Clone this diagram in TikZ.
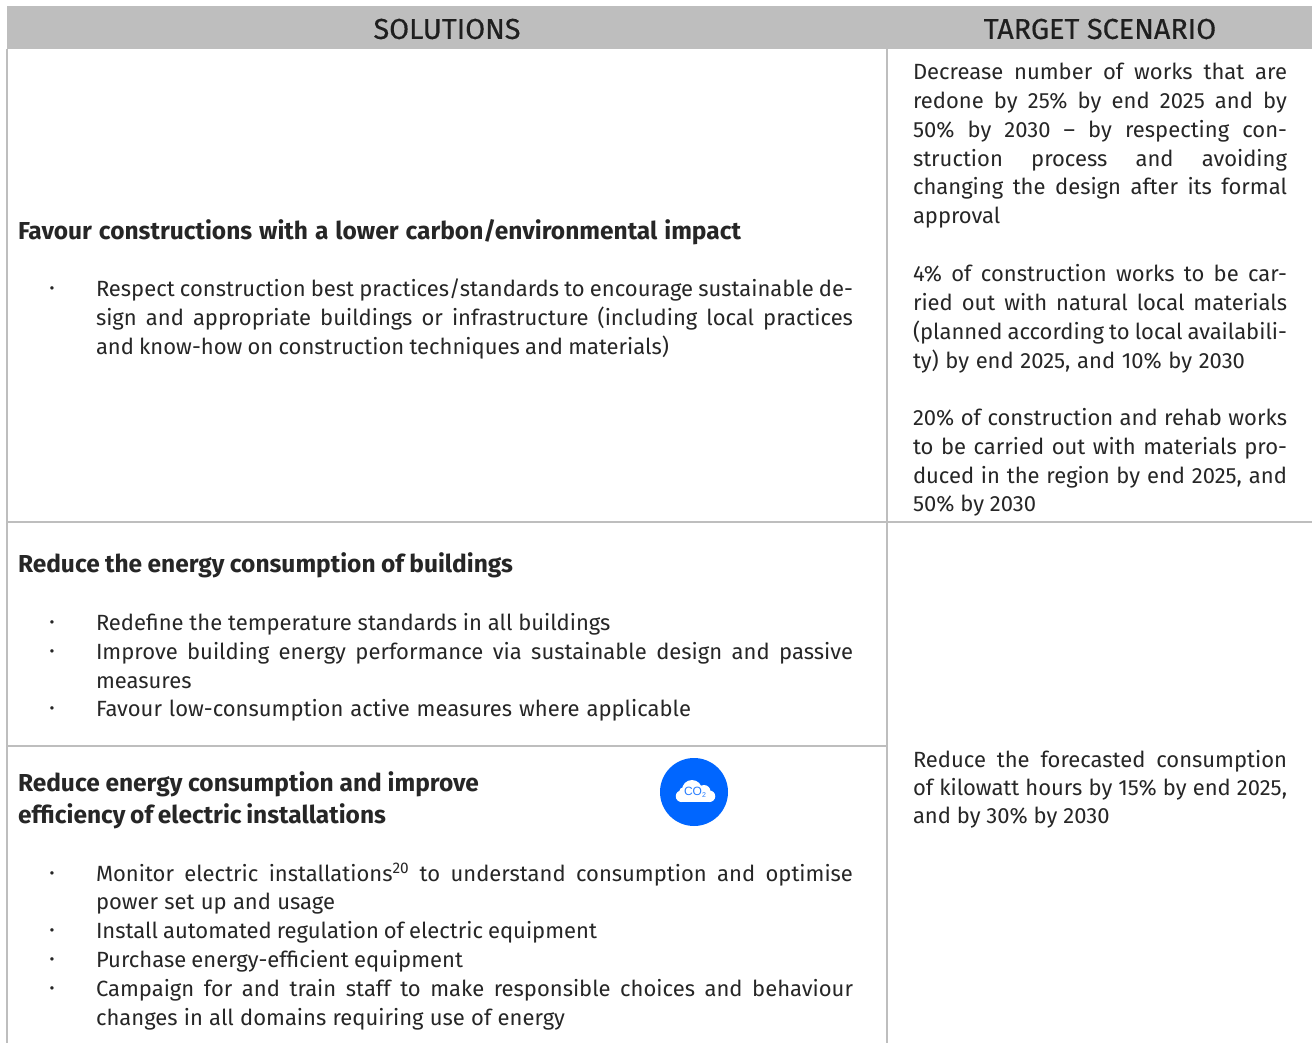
\documentclass[tikz,border=0pt]{standalone}
\usepackage{fontspec}
\setmainfont{Fira Sans}
\definecolor{rulegrey}{HTML}{BEBEBE}
\definecolor{inkgrey}{HTML}{262626}
\definecolor{iconblue}{HTML}{0066FF}
\newcounter{lnc}
\newcommand{\txt}[3]{\stepcounter{lnc}\node[linetext,name=ln\thelnc] at (#1,#2) {#3};}
\newcommand{\jtxt}[4]{\stepcounter{lnc}\node[linetext,name=ln\thelnc] at (#1,#2) {\makebox[#3pt][s]{#4}};}
\newcommand{\btxt}[4]{\stepcounter{lnc}\node[linetext,name=ln\thelnc,font=\fontsize{24.5}{29}\selectfont\bfseries] at (#1,#2) {\makebox[#3pt][s]{#4}};}
\newcommand{\bul}[1]{\stepcounter{lnc}\node[bulletmark,name=ln\thelnc] at (52,#1) {•};}
\tikzset{
  linetext/.style={anchor=base west,inner sep=0pt,outer sep=0pt,text=inkgrey,font=\fontsize{22}{29}\selectfont},
  bulletmark/.style={inner sep=0pt,text=inkgrey,font=\fontsize{15}{15}\selectfont},
  header/.style={inner sep=0pt,text=black!88,font=\fontsize{28.8}{30}\selectfont\addfontfeature{FakeBold=0.4}},
  gridline/.style={draw=rulegrey,line width=1.5pt}
}
\begin{document}
\begin{tikzpicture}[x=1pt,y=-1pt]
\useasboundingbox (0,0) rectangle (1312,1043);
\fill[white] (0,0) rectangle (1312,1043);
\fill[rulegrey] (7,6) rectangle (1312,49.5);
\node[header,name=solhead] at (447,29) {SOLUTIONS};
\node[header,name=tarhead] at (1100,29) {TARGET SCENARIO};
\draw[gridline] (7,49) -- (7,1043);
\draw[gridline] (887,49) -- (887,1043);
\draw[gridline] (7,522) -- (1312,522);
\draw[gridline] (7,746) -- (887,746);
% left column
\btxt{18}{239.5}{723}{Favour constructions with a lower carbon/environmental impact}
\bul{290}
\jtxt{96}{296}{757}{Respect construction best practices/standards to encourage sustainable de-}
\jtxt{96}{325}{757}{sign and appropriate buildings or infrastructure (including local practices}
\jtxt{96}{354}{573}{and know-how on construction techniques and materials)}
\btxt{18}{572}{495}{Reduce the energy consumption of buildings}
\bul{624}
\txt{96}{630}{Redefine the temperature standards in all buildings}
\bul{653}
\jtxt{96}{659}{757}{Improve building energy performance via sustainable design and passive}
\txt{96}{688}{measures}
\bul{710}
\jtxt{96}{716}{595}{Favour low-consumption active measures where applicable}
\btxt{18}{791}{461}{Reduce energy consumption and improve}
\btxt{18}{823}{368}{efficiency of electric installations}
\bul{875}
\jtxt{96}{881}{757}{Monitor electric installations\textsuperscript{20} to understand consumption and optimise}
\jtxt{96}{909}{239}{power set up and usage}
\bul{932}
\jtxt{96}{938}{501}{Install automated regulation of electric equipment}
\bul{961}
\jtxt{96}{967}{367}{Purchase energy-efficient equipment}
\bul{990}
\jtxt{96}{996}{757}{Campaign for and train staff to make responsible choices and behaviour}
\jtxt{96}{1025}{469}{changes in all domains requiring use of energy}
% right column
\jtxt{913}{80}{374}{Decrease number of works that are}
\jtxt{913}{109}{374}{redone by 25\% by end 2025 and by}
\jtxt{913}{138}{374}{50\% by 2030 – by respecting con-}
\jtxt{913}{167}{374}{struction process and avoiding}
\jtxt{913}{195}{374}{changing the design after its formal}
\txt{913}{224}{approval}
\jtxt{913}{281}{374}{4\% of construction works to be car-}
\jtxt{913}{310}{374}{ried out with natural local materials}
\jtxt{913}{339}{374}{(planned according to local availabili-}
\jtxt{913}{368}{332}{ty) by end 2025, and 10\% by 2030}
\jtxt{913}{425}{374}{20\% of construction and rehab works}
\jtxt{913}{454}{374}{to be carried out with materials pro-}
\jtxt{913}{483}{374}{duced in the region by end 2025, and}
\txt{913}{511}{50\% by 2030}
\jtxt{913}{767}{374}{Reduce the forecasted consumption}
\jtxt{913}{795}{374}{of kilowatt hours by 15\% by end 2025,}
\txt{913}{823}{and by 30\% by 2030}
% icon
\fill[iconblue] (694,792) circle (34);
\fill[white] (681.5,790.5) rectangle (709.5,802);
\fill[white] (681.5,796.25) circle (5.75);
\fill[white] (709.5,796.25) circle (5.75);
\fill[white] (692,790) circle (10);
\fill[white] (704,791.5) circle (6.5);
\fill[white] (684,792) circle (5);
\node[inner sep=0pt,text=iconblue!85!white,font=\fontsize{12}{12}\selectfont\fontspec{Liberation Sans},name=co] at (695,792.5) {CO\raisebox{-2pt}{\fontsize{7}{7}\selectfont 2}};
\end{tikzpicture}
\end{document}
